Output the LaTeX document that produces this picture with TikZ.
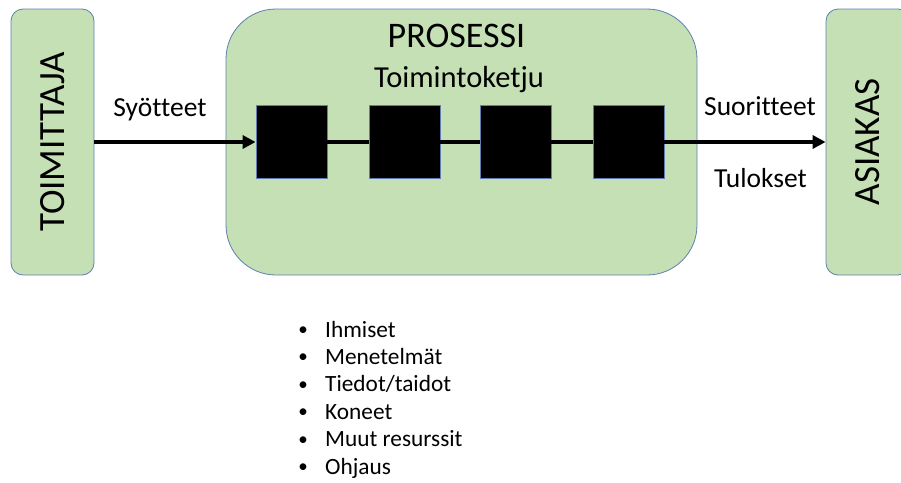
\documentclass[tikz,border=0pt]{standalone}
\usepackage{fontspec}
\setmainfont{Carlito}[Ligatures=NoCommon]
\usetikzlibrary{arrows.meta}
\definecolor{boxgreen}{HTML}{C5E0B4}
\definecolor{boxedge}{HTML}{5F7FB0}
\begin{document}
\begin{tikzpicture}[x=1pt,y=-1pt,
  greenbox/.style={draw=boxedge, fill=boxgreen, line width=0.8pt, inner sep=0pt, minimum height=266pt},
  blackbox/.style={draw=boxedge, fill=black, line width=0.8pt, minimum width=71pt, minimum height=73pt, inner sep=0pt},
  flow/.style={line width=3.8pt},
  arrowflow/.style={flow, -{Triangle[length=13pt,width=13pt]}},
  lab/.style={font=\fontsize{27.5}{32}\selectfont, anchor=base, inner sep=0pt},
  biglab/.style={font=\fontsize{37}{42}\selectfont, rotate=90, inner sep=0pt},
  listitem/.style={font=\fontsize{23.3}{28}\selectfont, anchor=base west, inner sep=0pt},
  bulletmark/.style={font=\fontsize{19}{24}\selectfont, anchor=base, inner sep=0pt}]
\useasboundingbox (0,0) rectangle (901,482);
\clip (0,0) rectangle (901,482);

% boxes
\node[greenbox, rounded corners=12pt, minimum width=83pt] (sup) at (52.5,142) {};
\node[greenbox, rounded corners=50pt, minimum width=471pt] (proc) at (461.5,142) {};
\node[greenbox, rounded corners=12pt, minimum width=84pt] (cust) at (868,142) {};

\node[biglab] (suplab) at (sup.center) {TOIMITTAJA};
\node[biglab] (custlab) at (cust.center) {ASIAKAS};

\node[font=\fontsize{36}{42}\selectfont, anchor=base, inner sep=0pt] (title) at (456.5,47) {PROSESSI};
\node[font=\fontsize{30.5}{36}\selectfont, anchor=base, inner sep=0pt] (sub) at (459,87) {Toimintoketju};

% chain
\node[blackbox] (b1) at (291.5,142) {};
\node[blackbox] (b2) at (404.5,142) {};
\node[blackbox] (b3) at (515.5,142) {};
\node[blackbox] (b4) at (628.5,142) {};

\draw[arrowflow] (sup) -- (b1);
\draw[flow] (b1) -- (b2);
\draw[flow] (b2) -- (b3);
\draw[flow] (b3) -- (b4);
\draw[arrowflow] (b4) -- (cust);

% labels
\node[lab] (in) at (160,116) {Syötteet};
\node[lab] (out1) at (760,115) {Suoritteet};
\node[lab] (out2) at (760.5,187) {Tulokset};

% resources list
\foreach \t [count=\i] in {Ihmiset, Menetelmät, Tiedot/taidot, Koneet, Muut resurssit, Ohjaus} {
  \node[bulletmark] (bul\i) at (303,{335.5+27.4*(\i-1)}) {•};
  \node[listitem] (item\i) at (325,{337+27.4*(\i-1)}) {\t};
}
\end{tikzpicture}
\end{document}
